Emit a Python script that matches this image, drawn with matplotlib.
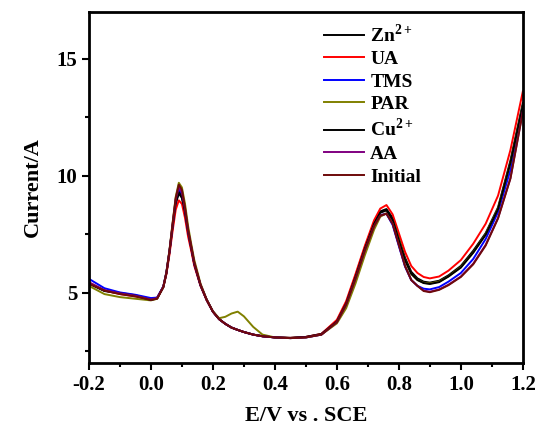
import matplotlib
matplotlib.use("Agg")
import matplotlib.pyplot as plt
from matplotlib.ticker import MultipleLocator

plt.rcParams['font.family'] = ['Liberation Serif', 'DejaVu Serif']
plt.rcParams['font.weight'] = 'bold'
plt.rcParams['mathtext.fontset'] = 'custom'
plt.rcParams['mathtext.rm'] = 'Liberation Serif'
plt.rcParams['mathtext.bf'] = 'Liberation Serif:bold'
plt.rcParams['axes.unicode_minus'] = False

# potential (V vs SCE), shared by all scans
potential = [-0.20, -0.15, -0.10, -0.05, 0.00, 0.02, 0.04, 0.05, 0.06, 0.07,
             0.08, 0.09, 0.10, 0.11, 0.12, 0.13, 0.14, 0.16, 0.18, 0.20,
             0.22, 0.24, 0.26, 0.28, 0.30, 0.33, 0.36, 0.40, 0.45, 0.50,
             0.55, 0.60, 0.63, 0.66, 0.69, 0.72, 0.74, 0.76, 0.78, 0.80,
             0.82, 0.84, 0.86, 0.88, 0.90, 0.93, 0.96, 1.00, 1.04, 1.08,
             1.12, 1.16, 1.20]

zn = [5.40, 5.10, 5.00, 4.90, 4.72, 4.78, 5.25, 5.85, 6.75, 7.80,
      8.80, 9.25, 9.05, 8.40, 7.55, 6.90, 6.22, 5.32, 4.70, 4.20,
      3.88, 3.68, 3.52, 3.42, 3.33, 3.22, 3.15, 3.10, 3.08, 3.12,
      3.25, 3.80, 4.58, 5.72, 6.92, 8.00, 8.48, 8.58, 8.20, 7.35,
      6.50, 5.90, 5.62, 5.48, 5.44, 5.52, 5.75, 6.15, 6.80, 7.55,
      8.65, 10.65, 13.10]

ua = [5.45, 5.10, 4.95, 4.85, 4.72, 4.78, 5.25, 5.80, 6.65, 7.65,
      8.55, 8.95, 8.80, 8.20, 7.40, 6.80, 6.15, 5.30, 4.68, 4.20,
      3.88, 3.68, 3.52, 3.42, 3.33, 3.22, 3.15, 3.10, 3.08, 3.12,
      3.25, 3.85, 4.65, 5.80, 7.00, 8.10, 8.60, 8.75, 8.35, 7.55,
      6.75, 6.15, 5.85, 5.68, 5.62, 5.70, 5.95, 6.40, 7.10, 7.95,
      9.15, 11.10, 13.60]

tms = [5.60, 5.20, 5.02, 4.92, 4.78, 4.80, 5.28, 5.88, 6.80, 7.90,
       8.95, 9.40, 9.20, 8.50, 7.62, 6.95, 6.25, 5.33, 4.70, 4.20,
       3.88, 3.68, 3.52, 3.42, 3.33, 3.22, 3.15, 3.10, 3.07, 3.10,
       3.22, 3.75, 4.50, 5.62, 6.82, 7.88, 8.32, 8.38, 7.90, 7.00,
       6.12, 5.55, 5.30, 5.18, 5.15, 5.25, 5.48, 5.85, 6.45, 7.30,
       8.45, 10.25, 12.95]

par = [5.30, 4.95, 4.82, 4.75, 4.68, 4.75, 5.25, 5.90, 6.85, 8.00,
       9.10, 9.70, 9.50, 8.80, 7.85, 7.10, 6.40, 5.40, 4.72, 4.22,
       3.92, 3.98, 4.12, 4.20, 4.00, 3.55, 3.22, 3.10, 3.07, 3.10,
       3.22, 3.70, 4.35, 5.40, 6.60, 7.70, 8.25, 8.40, 8.10, 7.30,
       6.40, 5.80, 5.55, 5.43, 5.40, 5.48, 5.70, 6.10, 6.72, 7.50,
       8.60, 10.55, 13.00]

cu = [5.40, 5.08, 4.98, 4.88, 4.70, 4.77, 5.25, 5.85, 6.78, 7.85,
      8.85, 9.30, 9.10, 8.45, 7.60, 6.92, 6.24, 5.33, 4.70, 4.20,
      3.88, 3.68, 3.52, 3.42, 3.33, 3.22, 3.15, 3.10, 3.08, 3.12,
      3.24, 3.78, 4.55, 5.68, 6.88, 7.95, 8.42, 8.52, 8.12, 7.25,
      6.40, 5.82, 5.55, 5.42, 5.38, 5.46, 5.70, 6.08, 6.72, 7.48,
      8.58, 10.55, 13.00]

aa = [5.45, 5.12, 4.98, 4.88, 4.72, 4.78, 5.26, 5.87, 6.80, 7.92,
      9.00, 9.50, 9.30, 8.58, 7.66, 6.98, 6.28, 5.35, 4.70, 4.20,
      3.88, 3.68, 3.52, 3.42, 3.33, 3.22, 3.15, 3.10, 3.07, 3.10,
      3.22, 3.75, 4.50, 5.60, 6.80, 7.85, 8.30, 8.38, 7.95, 7.05,
      6.15, 5.55, 5.30, 5.10, 5.05, 5.15, 5.35, 5.70, 6.25, 7.05,
      8.20, 9.90, 12.75]

initial = [5.40, 5.10, 4.95, 4.85, 4.70, 4.75, 5.25, 5.85, 6.80, 7.95,
           9.05, 9.62, 9.40, 8.65, 7.70, 7.00, 6.30, 5.35, 4.70, 4.20,
           3.88, 3.68, 3.52, 3.42, 3.33, 3.22, 3.15, 3.10, 3.07, 3.10,
           3.22, 3.75, 4.50, 5.60, 6.80, 7.85, 8.30, 8.38, 7.95, 7.05,
           6.15, 5.55, 5.30, 5.08, 5.03, 5.13, 5.33, 5.68, 6.22, 7.02,
           8.18, 9.88, 12.72]

series = [
    (zn, 'Zn$^{2+}$', 'black'),
    (ua, 'UA', '#ff0000'),
    (tms, 'TMS', '#0000ff'),
    (par, 'PAR', '#808000'),
    (cu, 'Cu$^{2+}$', 'black'),
    (aa, 'AA', '#800080'),
    (initial, 'Initial', '#6e0a0a'),
]

fig = plt.figure(figsize=(5.39, 4.36), dpi=100)
ax = fig.add_axes([0.165, 0.167, 0.805, 0.806])

for vals, lab, col in series:
    ax.plot(potential, vals, color=col, lw=1.4, label=lab)

ax.set_xlim(-0.2, 1.2)
ax.set_ylim(2, 17)
ax.xaxis.set_major_locator(MultipleLocator(0.2))
ax.xaxis.set_minor_locator(MultipleLocator(0.1))
ax.yaxis.set_major_locator(MultipleLocator(5))
ax.yaxis.set_minor_locator(MultipleLocator(2.5))
ax.tick_params(which='major', direction='out', length=5, width=1.5, labelsize=15)
ax.tick_params(which='minor', direction='out', length=3, width=1.5)
for sp in ax.spines.values():
    sp.set_linewidth(2)

ax.set_xlabel('E/V vs . SCE', fontsize=16, fontweight='bold', labelpad=8)
ax.set_ylabel('Current/A', fontsize=16, fontweight='bold', labelpad=10)

leg = ax.legend(loc='upper left', bbox_to_anchor=(0.505, 1.012), frameon=False,
                fontsize=14, handlelength=2.1, handletextpad=0.3,
                labelspacing=0.25, borderpad=0.3)

fig.savefig('out.png', dpi=100)
